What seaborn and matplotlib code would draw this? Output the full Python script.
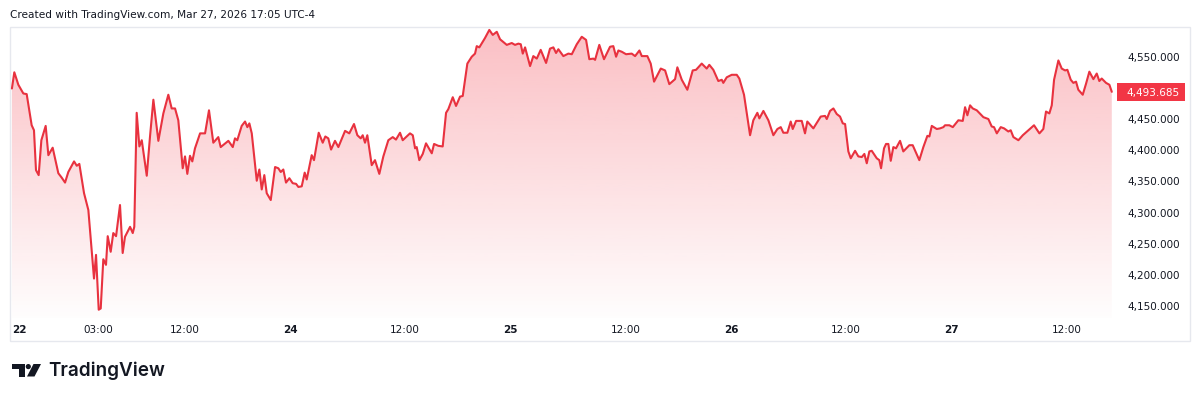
import numpy as np
import pandas as pd
import matplotlib
matplotlib.use("Agg")
import matplotlib.pyplot as plt
import matplotlib.transforms as mtransforms
from matplotlib.patches import Rectangle, Polygon, Circle
import seaborn as sns

# ---------------- data (trading hours since Sun 22 Mar 18:00 ET, XAU price) ----------------
hours_mon = [0.00, 0.25, 0.67, 1.19, 1.54, 2.06, 2.30, 2.51, 2.79, 3.07,
             3.52, 3.80, 4.25, 4.84, 5.19, 5.54, 5.88, 6.48, 6.76, 7.03,
             7.52, 7.97, 8.56, 8.77, 9.05, 9.26, 9.53, 9.81, 9.99, 10.30,
             10.57, 10.86, 11.27, 11.55, 11.79, 12.32, 12.60, 12.76, 13.01, 13.29,
             13.54, 14.06, 14.40, 14.75, 15.27, 15.79, 16.31, 16.66, 17.01, 17.35,
             17.81, 18.05, 18.29, 18.57, 18.81, 19.09, 19.62, 20.14, 20.55, 21.00,
             21.52, 21.77, 22.57, 23.03]
price_mon = [4499, 4525, 4505, 4491, 4490, 4440, 4432, 4368, 4360, 4416,
             4439, 4392, 4404, 4363, 4356, 4348, 4365, 4382, 4375, 4378,
             4331, 4304, 4194, 4232, 4144, 4146, 4225, 4216, 4262, 4237,
             4267, 4262, 4312, 4235, 4261, 4277, 4267, 4277, 4460, 4406,
             4416, 4359, 4422, 4481, 4415, 4459, 4489, 4467, 4467, 4448,
             4371, 4390, 4362, 4391, 4382, 4403, 4427, 4427, 4464, 4412,
             4421, 4405, 4415, 4405]

hours_tue = [23.26, 23.50, 23.96, 24.31, 24.55, 24.76,
             25.01, 25.53, 25.80, 26.05, 26.32, 26.57, 26.99, 27.44, 27.78, 28.03,
             28.30, 28.58, 28.93, 29.28, 29.63, 29.87, 30.22, 30.53, 30.74, 31.26,
             31.50, 31.99, 32.41, 32.68, 32.99, 33.28, 33.69, 34.04, 34.74, 35.18,
             35.67, 36.02, 36.37, 36.58, 36.82, 37.06, 37.52, 37.86, 38.31, 38.73,
             39.25, 39.71, 40.05, 40.47, 40.75, 41.17, 41.51, 41.80, 42.04, 42.21,
             42.48, 42.84, 43.18, 43.78, 44.02, 44.46, 44.92, 45.27, 45.51, 45.97]
price_tue = [4419, 4416, 4439, 4446, 4437, 4443,
             4427, 4351, 4369, 4337, 4360, 4331, 4320, 4373, 4371, 4365,
             4369, 4348, 4355, 4347, 4346, 4341, 4342, 4364, 4353, 4392,
             4384, 4428, 4412, 4422, 4419, 4401, 4415, 4405, 4431, 4427,
             4442, 4424, 4419, 4424, 4412, 4424, 4376, 4384, 4362, 4390,
             4416, 4421, 4417, 4428, 4416, 4422, 4427, 4424, 4403, 4405,
             4384, 4394, 4411, 4395, 4410, 4407, 4406, 4460, 4466, 4485]

hours_wed = [46.31, 46.73, 47.01, 47.49, 47.95, 48.29, 48.47, 48.74, 49.33, 49.78,
             50.14, 50.56, 50.90, 51.60, 52.12, 52.46, 52.81, 53.06, 53.27, 53.51,
             54.03, 54.37, 54.73, 55.14, 55.70, 56.11, 56.46, 56.74, 56.98, 57.50,
             58.02, 58.38, 58.90, 59.42, 59.87, 60.21, 60.63, 60.81, 61.25, 61.74,
             62.37, 62.71, 63.00, 63.24, 63.59, 64.04, 64.63, 64.98, 65.43, 65.68,
             66.26, 66.61, 66.96, 67.66, 68.11, 68.55]
price_wed = [4471, 4486, 4487, 4539, 4550, 4555, 4567, 4565, 4580, 4593,
             4585, 4590, 4578, 4569, 4572, 4569, 4571, 4570, 4555, 4565,
             4535, 4551, 4547, 4561, 4540, 4563, 4565, 4556, 4562, 4551,
             4555, 4554, 4570, 4582, 4577, 4546, 4547, 4545, 4569, 4546,
             4566, 4567, 4550, 4560, 4558, 4554, 4555, 4551, 4560, 4551,
             4551, 4539, 4510, 4531, 4528, 4506]

hours_thu = [69.15, 69.39, 69.85, 70.43,
             70.99, 71.34, 71.93, 72.45, 72.72, 73.14, 73.66, 74.02, 74.18, 74.54,
             75.06, 75.58, 75.85, 76.34, 76.63, 76.97, 77.31, 77.73, 77.94, 78.36,
             78.88, 79.40, 79.82, 80.17, 80.44, 80.86, 81.21, 81.42, 81.77, 82.36,
             82.70, 82.94, 83.57, 84.34, 84.79, 84.97, 85.31, 85.66, 86.01, 86.35,
             86.64, 86.88, 87.22, 87.47, 87.92, 88.26, 88.62, 88.89, 89.14, 89.41,
             89.66, 90.18, 90.45, 90.63, 90.94, 91.15, 91.39, 91.64, 91.91]
price_thu = [4514, 4533, 4513, 4497,
             4528, 4529, 4539, 4531, 4537, 4529, 4511, 4513, 4508, 4517,
             4521, 4521, 4515, 4489, 4459, 4424, 4448, 4460, 4451, 4463,
             4448, 4424, 4434, 4437, 4428, 4428, 4446, 4434, 4447, 4447,
             4427, 4446, 4435, 4454, 4455, 4450, 4463, 4467, 4458, 4454,
             4443, 4442, 4398, 4387, 4399, 4390, 4389, 4394, 4379, 4398,
             4399, 4387, 4384, 4371, 4403, 4410, 4410, 4383, 4405]

hours_fri = [92.19,
             92.61, 92.95, 93.58, 93.93, 94.28, 94.62, 95.04, 95.46, 95.67, 95.92,
             96.44, 96.78, 97.13, 97.30, 97.75, 98.11, 98.69, 99.15, 99.39, 99.63,
             99.91, 100.19, 100.61, 101.30, 101.82, 102.17, 102.41, 102.70, 103.11, 103.46,
             103.90, 104.15, 104.43, 104.95, 105.41, 105.99, 106.58, 107.14, 107.55, 107.83,
             108.18, 108.43, 108.67, 109.12, 109.47, 109.82, 110.06, 110.41, 110.68, 110.96,
             111.20, 111.66, 112.01, 112.35, 112.77, 113.12, 113.39, 113.64, 114.09, 114.44, 114.69]
price_fri = [4403,
             4415, 4398, 4408, 4408, 4396, 4384, 4405, 4423, 4422, 4439,
             4434, 4435, 4437, 4440, 4440, 4437, 4448, 4447, 4469, 4456,
             4472, 4467, 4464, 4453, 4450, 4438, 4437, 4427, 4437, 4435,
             4430, 4432, 4421, 4416, 4424, 4432, 4440, 4427, 4434, 4462,
             4459, 4472, 4513, 4544, 4531, 4528, 4529, 4513, 4508, 4510,
             4497, 4489, 4507, 4526, 4514, 4523, 4511, 4515, 4508, 4505, 4493.685]

time_tick_hours = [0, 9, 18, 29, 41, 52, 64, 75, 87, 98, 110]
time_tick_labels = ["22", "03:00", "12:00", "24", "12:00", "25", "12:00", "26", "12:00", "27", "12:00"]
price_ticks = [4150, 4200, 4250, 4300, 4350, 4400, 4450, 4500, 4550]
last_price = 4493.685
header_text = "Created with TradingView.com, Mar 27, 2026 17:05 UTC-4"
brand_text = "TradingView"

hours = hours_mon + hours_tue + hours_wed + hours_thu + hours_fri
prices = price_mon + price_tue + price_wed + price_thu + price_fri
assert len(hours) == len(prices)
df = pd.DataFrame({"hours": hours, "price": prices})

# ---------------- style ----------------
RED = "#f23645"
LINE = "#e8323f"
TXT = "#131722"
BORDER = "#e6e8ee"

sns.set_theme(style="white")
plt.rcParams["font.family"] = ["DejaVu Sans"]

W, H = 1200, 401
fig = plt.figure(figsize=(W / 100, H / 100), dpi=100)
fig.patch.set_facecolor("white")

# pane in pixel coordinates
px_l, px_r, px_t, px_b = 10, 1114, 27, 318
ax = fig.add_axes([px_l / W, 1 - px_b / H, (px_r - px_l) / W, (px_b - px_t) / H])
ax.set_facecolor("none")

XMIN, XMAX = -0.2, 114.92
YMIN, YMAX = 4130.7, 4597.7

# gradient area under the line
poly_pts = np.vstack([[df["hours"].iloc[0], YMIN],
                      df[["hours", "price"]].to_numpy(),
                      [df["hours"].iloc[-1], YMIN]])
clip = Polygon(poly_pts, closed=True, facecolor="none", edgecolor="none")
ax.add_patch(clip)
n = 256
g = np.linspace(1, 0, n).reshape(-1, 1)
rgba = np.zeros((n, 1, 4))
rgba[..., :3] = matplotlib.colors.to_rgb(RED)
rgba[..., 3] = 0.01 + 0.31 * g
im = ax.imshow(rgba, extent=[XMIN, XMAX, YMIN, YMAX], aspect="auto",
               origin="upper", zorder=1, interpolation="bilinear")
im.set_clip_path(clip)

sns.lineplot(data=df, x="hours", y="price", ax=ax, color=LINE, linewidth=1.5,
             estimator=None, sort=False, zorder=3)

ax.set_xlim(XMIN, XMAX)
ax.set_ylim(YMIN, YMAX)
ax.set_xlabel("")
ax.set_ylabel("")
for s in ax.spines.values():
    s.set_visible(False)
ax.grid(False)

ax.set_xticks(time_tick_hours)
ax.set_xticklabels(time_tick_labels)
ax.tick_params(axis="x", length=0, pad=5, labelsize=7.5, labelcolor=TXT)
for lab, txt in zip(ax.get_xticklabels(), time_tick_labels):
    if ":" not in txt:
        lab.set_fontweight("bold")
ax.get_xticklabels()[0].set_horizontalalignment("left")

ax.yaxis.tick_right()
ax.set_yticks(price_ticks)
ax.set_yticklabels([f"{v:,.3f}" for v in price_ticks])
ax.tick_params(axis="y", length=0, pad=9.5, labelsize=7.5, labelcolor=TXT)
for lab in ax.get_yticklabels():
    lab.set_horizontalalignment("left")

# last price marker
blend = mtransforms.blended_transform_factory(fig.transFigure, ax.transData)
box_h = 28.4  # price units (~17.7 px)
ax.add_patch(Rectangle((1117 / W, last_price - box_h / 2), 68 / W, box_h,
                       transform=blend, facecolor=RED, edgecolor="none",
                       clip_on=False, zorder=5))
ax.text(1153 / W, last_price, f"{last_price:,.3f}", transform=blend, color="white",
        fontsize=7.5, ha="center", va="center_baseline", zorder=6, clip_on=False)

# ---------------- overlay: frame, header, brand ----------------
ov = fig.add_axes([0, 0, 1, 1], zorder=-1)
ov.set_xlim(0, W)
ov.set_ylim(H, 0)
ov.axis("off")
ov.add_patch(Rectangle((10, 27), 1180, 314, facecolor="none", edgecolor=BORDER, linewidth=1))
ov.text(10, 15, header_text, fontsize=7.6, color=TXT, ha="left", va="center")

# TradingView logo mark
ov.add_patch(Rectangle((12, 364), 12.5, 5, facecolor=TXT, edgecolor="none"))
ov.add_patch(Rectangle((18.5, 364), 6, 12.5, facecolor=TXT, edgecolor="none"))
ov.add_patch(Circle((28.3, 366.6), 2.6, facecolor=TXT, edgecolor="none"))
ov.add_patch(Polygon([(33.5, 364), (41, 364), (34.5, 376.5), (27, 376.5)],
                     closed=True, facecolor=TXT, edgecolor="none"))
ov.text(48.5, 376.5, brand_text, fontsize=13.6, fontweight="semibold",
        family=["Inter", "DejaVu Sans"], color=TXT, ha="left", va="baseline")

fig.savefig("out.png", dpi=100, facecolor="white")
